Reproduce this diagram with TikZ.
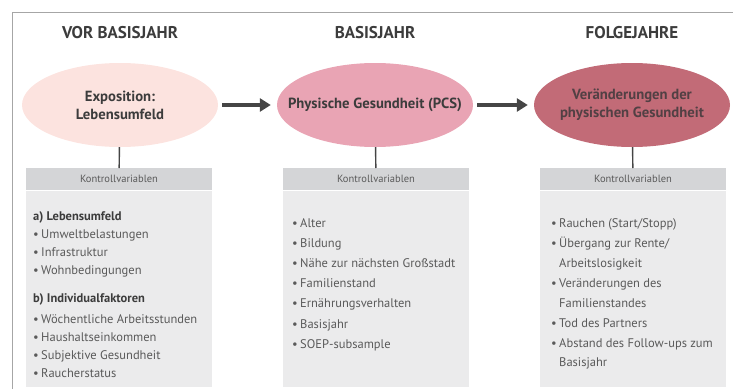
\documentclass[tikz,border=0pt]{standalone}
\usepackage{fontspec}
\setmainfont{PT Sans}
\usetikzlibrary{arrows.meta,shapes.geometric,positioning}
\definecolor{roseA}{HTML}{FCE3DF}
\definecolor{roseB}{HTML}{E9A4B4}
\definecolor{roseC}{HTML}{C26B77}
\definecolor{roseCtext}{HTML}{524044}
\definecolor{bandgray}{HTML}{D4D5D7}
\definecolor{boxgray}{HTML}{EBEBEC}
\definecolor{headgray}{HTML}{3C3C3C}
\definecolor{textgray}{HTML}{5A5A5A}
\definecolor{arrowgray}{HTML}{454545}
\newcommand{\blt}{\makebox[8pt][l]{\textbullet}}
\newcommand{\cnt}{\hspace*{8pt}}

\begin{document}
\begin{tikzpicture}[x=1pt,y=-1pt,
  phase style/.style={font=\bfseries\fontsize{17}{20}\selectfont,text=headgray},
  ell style/.style={ellipse,minimum width=196pt,minimum height=84pt,inner sep=0pt},
  ell text/.style={align=center,inner sep=0pt,font=\bfseries\fontsize{14.7}{18}\selectfont},
  head style/.style={minimum width=186pt,minimum height=22pt,inner sep=0pt,fill=bandgray,anchor=north,font=\fontsize{10.5}{13}\selectfont,text=textgray},
  body style/.style={minimum width=186pt,minimum height=196pt,inner sep=0pt,fill=boxgray,anchor=north},
  list style/.style={anchor=north west,align=left,inner sep=0pt,text=textgray,font=\fontsize{12.5}{#1}\selectfont},
  flow arrow/.style={-{Triangle[length=11pt,width=13pt]},line width=3.5pt,draw=arrowgray,shorten <=4pt,shorten >=6pt},
  link/.style={line width=1.4pt,draw=arrowgray}]
  \useasboundingbox (0,0) rectangle (733,389);
  \draw[gray!70,line width=0.8pt] (12,389) -- (12,12) -- (733,12);
  % phases
  \node[phase style] (t1) at (120,33) {VOR BASISJAHR};
  \node[phase style] (t2) at (375,33) {BASISJAHR};
  \node[phase style] (t3) at (632,33) {FOLGEJAHRE};
  \node[ell style,fill=roseA] (e1) at (120,105) {};
  \node[ell style,fill=roseB] (e2) at (375,105) {};
  \node[ell style,fill=roseC] (e3) at (632,105) {};
  \node[ell text,text=headgray] (x1) at (e1) {Exposition:\\Lebensumfeld};
  \node[ell text,text=headgray] (x2) at (e2) {Physische Gesundheit (PCS)};
  \node[ell text,text=roseCtext] (x3) at (e3) {Veränderungen der\\physischen Gesundheit};
  \draw[flow arrow] (e1) -- (e2);
  \draw[flow arrow] (e2) -- (e3);
  % boxes
  \node[head style] (k1) at (119,168) {Kontrollvariablen};
  \node[head style] (k2) at (376,168) {Kontrollvariablen};
  \node[head style] (k3) at (633,168) {Kontrollvariablen};
  \node[body style] (b1) at (k1.south) {};
  \node[body style] (b2) at (k2.south) {};
  \node[body style] (b3) at (k3.south) {};
  \draw[link] (e1) -- (k1);
  \draw[link] (e2) -- (k2);
  \draw[link] (e3) -- (k3);
  \node[list style=18] (l1) at (33,211.5) {{\bfseries\color{headgray}a) Lebensumfeld}\\
    \blt Umweltbelastungen\\ \blt Infrastruktur\\ \blt Wohnbedingungen\\[10pt]
    {\bfseries\color{headgray}b) Individualfaktoren}\\[3pt]
    \blt Wöchentliche Arbeitsstunden\\ \blt Haushaltseinkommen\\ \blt Subjektive Gesundheit\\ \blt Raucherstatus};
  \node[list style=20.2] (l2) at (292,218) {\blt Alter\\ \blt Bildung\\ \blt Nähe zur nächsten Großstadt\\
    \blt Familienstand\\ \blt Ernährungsverhalten\\ \blt Basisjahr\\ \blt SOEP-subsample};
  \node[list style=19.9] (l3) at (551,218.5) {\blt Rauchen (Start/Stopp)\\ \blt Übergang zur Rente/\\ \cnt Arbeitslosigkeit\\
    \blt Veränderungen des\\ \cnt Familienstandes\\ \blt Tod des Partners\\ \blt Abstand des Follow-ups zum\\ \cnt Basisjahr};
\end{tikzpicture}
\end{document}
